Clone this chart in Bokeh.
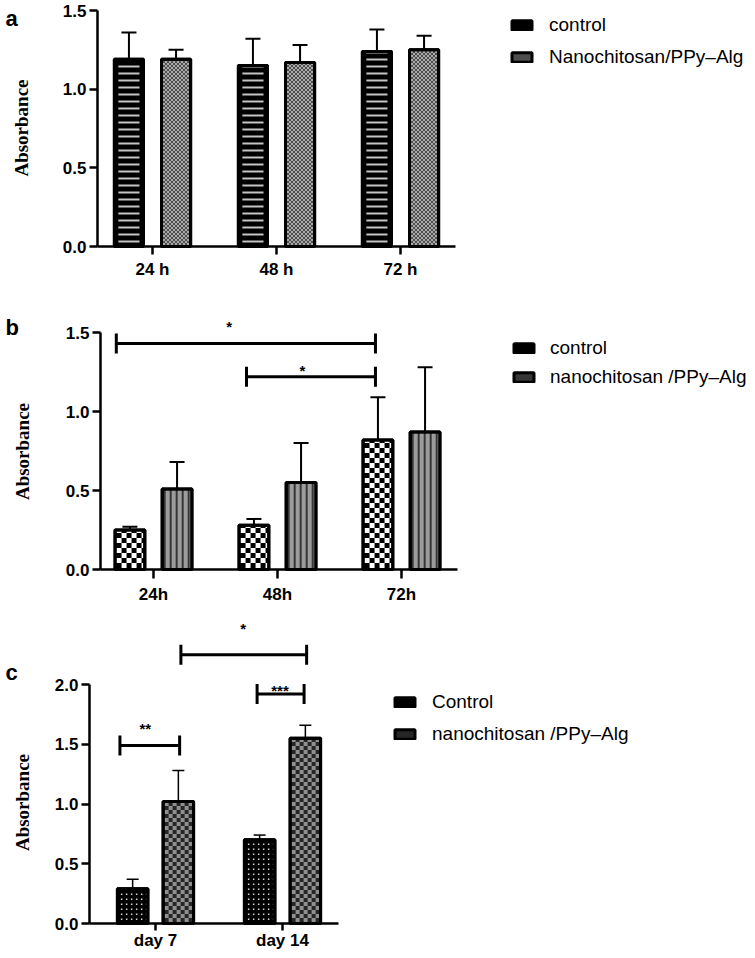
from bokeh.plotting import figure
from bokeh.layouts import column
from bokeh.models import (Range1d, FixedTicker, PrintfTickFormatter, Legend, LegendItem,
                          Whisker, TeeHead, ColumnDataSource)
from bokeh.core.properties import value
from bokeh.embed import file_html
from bokeh.resources import INLINE

# ---------------- data ----------------
a_groups = ["24 h", "48 h", "72 h"]
a_series = ["control", "Nanochitosan/PPy\u2013Alg"]
a_control_mean = [1.19, 1.15, 1.24]
a_control_sd = [0.17, 0.17, 0.14]
a_nano_mean = [1.19, 1.17, 1.25]
a_nano_sd = [0.06, 0.11, 0.09]
a_yticks = [0.0, 0.5, 1.0, 1.5]

b_groups = ["24h", "48h", "72h"]
b_series = ["control", "nanochitosan /PPy\u2013Alg"]
b_control_mean = [0.25, 0.28, 0.82]
b_control_sd = [0.02, 0.04, 0.27]
b_nano_mean = [0.51, 0.55, 0.87]
b_nano_sd = [0.17, 0.25, 0.41]
b_yticks = [0.0, 0.5, 1.0, 1.5]
b_sig_x0 = [-0.30, 0.75]
b_sig_x1 = [1.79, 1.79]
b_sig_y = [1.43, 1.22]
b_sig_label = ["*", "*"]
b_sig_label_x = [0.61, 1.20]
b_sig_label_y = [1.557, 1.278]

c_groups = ["day 7", "day 14"]
c_series = ["Control", "nanochitosan /PPy\u2013Alg"]
c_control_mean = [0.29, 0.70]
c_control_sd = [0.08, 0.04]
c_nano_mean = [1.02, 1.55]
c_nano_sd = [0.26, 0.11]
c_yticks = [0.0, 0.5, 1.0, 1.5, 2.0]
c_sig_x0 = [-0.28, 0.80, 0.20]
c_sig_x1 = [0.19, 1.17, 1.19]
c_sig_y = [1.49, 1.92, 2.25]
c_sig_label = ["**", "***", "*"]
c_sig_label_x = [-0.08, 0.98, 0.69]
c_sig_label_y = [1.657, 1.979, 2.494]

y_title = "Absorbance"
panel_letters = ["a", "b", "c"]

# ---------------- styling ----------------
W = 753
SANS = "Liberation Sans"
SERIF = "Liberation Serif"
BIG = 1e6

# pattern: base colour, tile w, tile h, inset, cells (x, y, w, h, colour) in px,
#          legend line (colour, width, dash)
PAT = {
    "a_ctrl": ("#000000", BIG, 7, 2.5, [(0, 2.5, BIG, 2, "#c4c4c4")], ("#d0d0d0", 1.5, "solid")),
    "a_nano": ("#4e4e4e", 4, 4, 0, [(0, 0, 2, 2, "#aaaaaa"), (2, 2, 2, 2, "#aaaaaa")],
               ("#8a8a8a", 3, "2 2")),
    "b_ctrl": ("#000000", 10, 10, 0, [(5, 0, 5, 5, "#ffffff"), (0, 5, 5, 5, "#ffffff")],
               ("#ffffff", 2, "3 3")),
    "b_nano": ("#363636", 6, BIG, 0, [(2, 0, 4, BIG, "#9c9c9c")], ("#8c8c8c", 4, "3 2")),
    "c_ctrl": ("#000000", 5, 5, 0, [(2, 2, 1.5, 1.5, "#d8d8d8")], ("#ffffff", 1, "1 3")),
    "c_nano": ("#262626", 8, 8, 0, [(4, 0, 4, 4, "#909090"), (0, 4, 4, 4, "#909090")],
               ("#9a9a9a", 3, "3 2")),
}


class Panel:
    """Figure whose frame fills the whole canvas; px are page pixels."""

    def __init__(self, top, height, axis_x, axis_y, tick0_x, x_px, y_px):
        self.top, self.height = top, height
        self.axis_x, self.axis_y, self.tick0_x = axis_x, axis_y, tick0_x
        self.x_px, self.y_px = x_px, y_px

    def X(self, px):
        return (px - self.tick0_x) / self.x_px

    def Y(self, py):
        return (self.axis_y - py) / self.y_px


def make_fig(P, axis_right, y_top_tick, groups, yticks, xtick_out, xlab_standoff):
    p = figure(width=W, height=P.height, output_backend="svg", toolbar_location=None,
               x_range=Range1d(P.X(0), P.X(W)),
               y_range=Range1d(P.Y(P.top + P.height), P.Y(P.top)),
               min_border=0, min_border_left=0, min_border_right=0,
               min_border_top=0, min_border_bottom=0)
    p.xgrid.visible = False
    p.ygrid.visible = False
    p.outline_line_color = None
    p.background_fill_color = "white"
    p.border_fill_color = "white"

    for ax in (p.xaxis[0], p.yaxis[0]):
        ax.axis_line_width = 2.5
        ax.axis_line_color = "black"
        ax.major_tick_line_width = 2.5
        ax.major_tick_line_color = "black"
        ax.major_tick_in = 0
        ax.minor_tick_in = 0
        ax.minor_tick_out = 0
        ax.major_label_text_font = SANS
        ax.major_label_text_font_style = "bold"
        ax.major_label_text_font_size = "17px"
        ax.major_label_text_color = "black"

    xa = p.xaxis[0]
    xa.ticker = FixedTicker(ticks=list(range(len(groups))))
    xa.major_label_overrides = {i: g for i, g in enumerate(groups)}
    xa.bounds = (P.X(P.axis_x), P.X(axis_right))
    xa.fixed_location = 0
    xa.major_tick_out = xtick_out
    xa.major_label_standoff = xlab_standoff

    ya = p.yaxis[0]
    ya.ticker = FixedTicker(ticks=yticks)
    ya.formatter = PrintfTickFormatter(format="%.1f")
    ya.bounds = (0, y_top_tick)
    ya.fixed_location = P.X(P.axis_x)
    ya.major_tick_out = 8
    ya.major_label_standoff = 3
    return p


def add_bars(p, P, means, sds, offset, width, key, lw, wlw, cap):
    base, tw, th, inset, cells, _ = PAT[key]
    x_px, y_px = P.x_px, P.y_px
    xs = [i + offset for i in range(len(means))]
    upper = [m + s for m, s in zip(means, sds)]
    src = ColumnDataSource(dict(x=xs, top=means, upper=upper))
    r = p.vbar(x="x", top="top", width=width, source=src, fill_color=base,
               line_color="black", line_width=lw)
    L, R, B, T, C = [], [], [], [], []
    for xc, top in zip(xs, means):
        xl = (xc - width / 2) * x_px + lw / 2 + inset
        xr = (xc + width / 2) * x_px - lw / 2 - inset
        yb = lw / 2
        yt = top * y_px - lw / 2
        nx = int((xr - xl) // tw) + 1
        ny = int((yt - yb) // th) + 1
        for j in range(ny):
            for i in range(nx):
                for cx, cy, cw, ch, col in cells:
                    l = xl + i * tw + cx
                    b = yb + j * th + cy
                    rr = min(l + cw, xr)
                    t = min(b + ch, yt)
                    l = max(l, xl)
                    b = max(b, yb)
                    if rr - l > 0.05 and t - b > 0.05:
                        L.append(l / x_px); R.append(rr / x_px)
                        B.append(b / y_px); T.append(t / y_px); C.append(col)
    p.quad(left=L, right=R, bottom=B, top=T, fill_color=C, line_color=None)
    p.vbar(x="x", top="top", width=width, source=src, fill_color=None,
           line_color="black", line_width=lw)
    w = Whisker(base="x", upper="upper", lower="top", source=src, dimension="height",
                line_color="black", line_width=wlw, lower_head=None,
                upper_head=TeeHead(size=cap, line_color="black", line_width=wlw))
    p.add_layout(w)
    return r


def add_sig(p, P, x0s, x1s, ys, labels, lx, ly, end_px=10):
    h = end_px / P.y_px
    p.segment(x0=x0s, y0=ys, x1=x1s, y1=ys, line_color="black", line_width=3)
    p.segment(x0=x0s, y0=[y - h for y in ys], x1=x0s, y1=[y + h for y in ys],
              line_color="black", line_width=3)
    p.segment(x0=x1s, y0=[y - h for y in ys], x1=x1s, y1=[y + h for y in ys],
              line_color="black", line_width=3)
    p.text(x=lx, y=ly, text=labels, text_font=value(SANS), text_font_style="bold",
           text_font_size="15px", text_align="center", text_baseline="middle",
           text_color="black", y_offset=3)


def add_legend(p, P, renderers, keys, labels, left, bottom, spacing, standoff):
    items = []
    for lab, r, key in zip(labels, renderers, keys):
        col, lw, dash = PAT[key][5]
        mark = p.line(x=[], y=[], line_color=col, line_width=lw, line_dash=dash)
        items.append(LegendItem(label=lab, renderers=[r, mark]))
    leg = Legend(items=items, location=(left, P.top + P.height - bottom),
                 glyph_width=25, glyph_height=12, label_height=22,
                 spacing=spacing, padding=0, margin=0, label_standoff=standoff,
                 label_text_font=SANS, label_text_font_size="19px", label_text_color="black",
                 border_line_color=None, background_fill_alpha=0)
    p.add_layout(leg)


def add_texts(p, P, letter, letter_baseline, title_x, title_y):
    p.text(x=[P.X(5)], y=[P.Y(letter_baseline)], text=[letter], text_font=value(SANS),
           text_font_style="bold", text_font_size="22px", text_baseline="alphabetic",
           text_align="left", text_color="black")
    p.text(x=[P.X(title_x)], y=[P.Y(title_y)], text=[y_title], angle=90, angle_units="deg",
           text_font=value(SERIF), text_font_style="bold", text_font_size="19px",
           text_align="center", text_baseline="middle", text_color="black")


# ---------------- panel a ----------------
PA = Panel(top=0, height=296, axis_x=97, axis_y=246, tick0_x=152, x_px=124,
           y_px=(246 - 10) / 1.5)
pa = make_fig(PA, 455, 1.5, a_groups, a_yticks, 8, 5)
ra1 = add_bars(pa, PA, a_control_mean, a_control_sd, -0.19, 0.235, "a_ctrl", 3, 2, 15)
ra2 = add_bars(pa, PA, a_nano_mean, a_nano_sd, 0.19, 0.235, "a_nano", 3, 2, 15)
add_legend(pa, PA, [ra1, ra2], ["a_ctrl", "a_nano"], a_series, 509, 68, 10, 15)
add_texts(pa, PA, panel_letters[0], 18, 21, 127.5)

# ---------------- panel b ----------------
PB = Panel(top=296, height=316, axis_x=100, axis_y=569, tick0_x=153, x_px=124,
           y_px=(569 - 332) / 1.5)
pb = make_fig(PB, 457, 1.5, b_groups, b_yticks, 9, 6)
rb1 = add_bars(pb, PB, b_control_mean, b_control_sd, -0.19, 0.24, "b_ctrl", 3, 2, 15)
rb2 = add_bars(pb, PB, b_nano_mean, b_nano_sd, 0.19, 0.24, "b_nano", 3, 2, 15)
add_sig(pb, PB, b_sig_x0, b_sig_x1, b_sig_y, b_sig_label, b_sig_label_x, b_sig_label_y)
add_legend(pb, PB, [rb1, rb2], ["b_ctrl", "b_nano"], b_series, 511, 388, 7, 14)
add_texts(pb, PB, panel_letters[1], 327, 22, 451)

# ---------------- panel c ----------------
PC = Panel(top=612, height=344, axis_x=89, axis_y=923, tick0_x=155, x_px=127,
           y_px=(923 - 684) / 2.0)
pc = make_fig(PC, 338, 2.0, c_groups, c_yticks, 7, 0)
rc1 = add_bars(pc, PC, c_control_mean, c_control_sd, -0.18, 0.24, "c_ctrl", 3, 1.5, 12)
rc2 = add_bars(pc, PC, c_nano_mean, c_nano_sd, 0.18, 0.24, "c_nano", 3, 1.5, 12)
add_sig(pc, PC, c_sig_x0, c_sig_x1, c_sig_y, c_sig_label, c_sig_label_x, c_sig_label_y)
add_legend(pc, PC, [rc1, rc2], ["c_ctrl", "c_nano"], c_series, 392, 745, 10, 15)
add_texts(pc, PC, panel_letters[2], 672, 22, 802)

layout = column(pa, pb, pc, spacing=0)
open("out.html", "w").write(file_html(layout, INLINE))
